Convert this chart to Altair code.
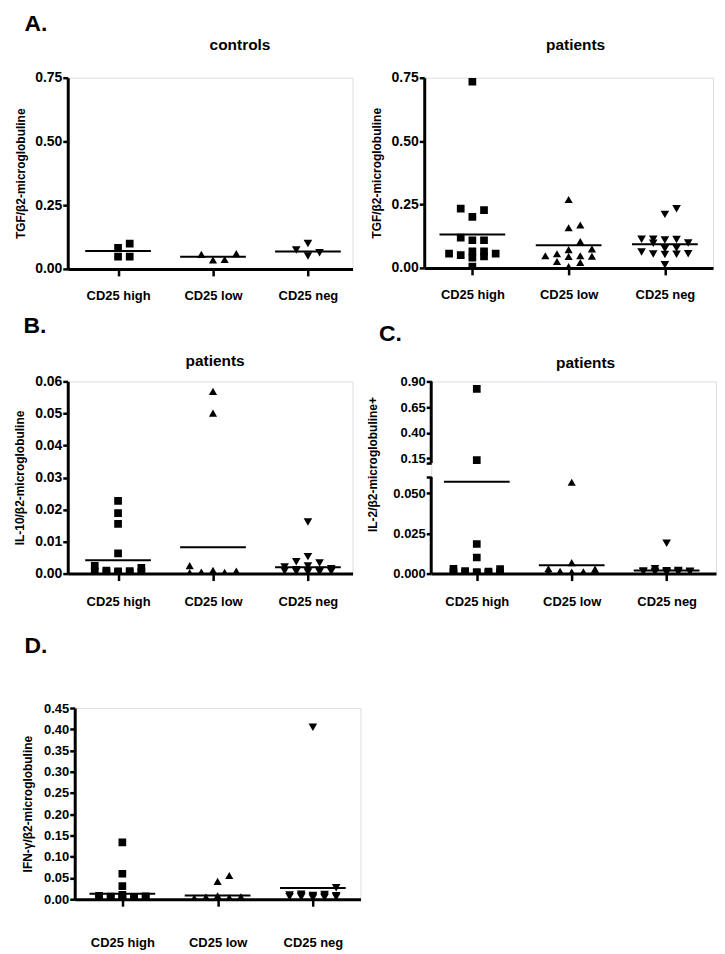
import altair as alt
import numpy as np
import pandas as pd

FONT = "Liberation Sans"
cats = ["CD25 high", "CD25 low", "CD25 neg"]
shape_range = ["square", "triangle-up", "triangle-down"]

# ---- A. TGF / b2-microglobuline, controls
tgf_ctrl_high = [0.048, 0.048, 0.083, 0.099]
tgf_ctrl_low = [0.035, 0.037, 0.057, 0.060]
tgf_ctrl_neg = [0.051, 0.063, 0.074, 0.100]
tgf_ctrl_means = [0.070, 0.048, 0.068]

# ---- A. TGF / b2-microglobuline, patients
tgf_pat_high = [0.734, 0.234, 0.228, 0.201, 0.119, 0.109, 0.109, 0.065, 0.065,
                0.056, 0.056, 0.050, 0.045, 0.040, 0.005]
tgf_pat_low = [0.270, 0.169, 0.158, 0.104, 0.075, 0.072, 0.056, 0.048, 0.048,
               0.046, 0.045, 0.025, 0.021, 0.005]
tgf_pat_neg = [0.233, 0.211, 0.113, 0.113, 0.112, 0.110, 0.098, 0.097, 0.078,
               0.076, 0.063, 0.056, 0.055, 0.054, 0.053, 0.012]
tgf_pat_means = [0.132, 0.089, 0.093]

# ---- B. IL-10 / b2-microglobuline, patients
il10_high = [0.0227, 0.0189, 0.0155, 0.0063, 0.0024, 0.0018, 0.0009, 0.0008,
             0.0007, 0.0006, 0.0005, 0.0004, 0.0003, 0.0002]
il10_low = [0.0569, 0.0501, 0.0025, 0.0010, 0.0008, 0.0005, 0.0004, 0.0003,
            0.0003, 0.0002, 0.0002, 0.0001, 0.0001]
il10_neg = [0.0161, 0.0053, 0.0037, 0.0033, 0.0024, 0.0021, 0.0015, 0.0012,
            0.0010, 0.0009, 0.0008, 0.0007, 0.0006, 0.0005, 0.0004]
il10_means = [0.0042, 0.0082, 0.0020]

# ---- C. IL-2 / b2-microglobuline, patients (broken axis)
il2_high = [0.828, 0.134, 0.0184, 0.0100, 0.0030, 0.0028, 0.0015, 0.0012,
            0.0010, 0.0008, 0.0006, 0.0005, 0.0004, 0.0003]
il2_low = [0.0567, 0.0068, 0.0030, 0.0028, 0.0015, 0.0012, 0.0010, 0.0008,
           0.0006, 0.0004, 0.0003, 0.0002]
il2_neg = [0.0188, 0.0030, 0.0020, 0.0018, 0.0016, 0.0015, 0.0014, 0.0013,
           0.0012, 0.0011, 0.0010, 0.0009, 0.0008, 0.0006]
il2_means = [0.057, 0.0052, 0.0020]

# ---- D. IFN-g / b2-microglobuline
ifn_high = [0.134, 0.060, 0.031, 0.010, 0.008, 0.007, 0.006, 0.005, 0.005,
            0.004, 0.004, 0.003, 0.003, 0.002]
ifn_low = [0.056, 0.042, 0.008, 0.006, 0.005, 0.004, 0.003, 0.003, 0.002,
           0.002, 0.001, 0.001]
ifn_neg = [0.405, 0.027, 0.012, 0.011, 0.010, 0.009, 0.008, 0.008, 0.007,
           0.006, 0.006, 0.005, 0.005, 0.004, 0.003]
ifn_means = [0.013, 0.009, 0.0265]


def spread(values, dom, rng_up, step_px=11.7, thr=8.5):
    """Prism-like column spreading of points that collide vertically."""
    px = np.interp(values, dom, rng_up)
    order = np.argsort(values, kind="stable")
    placed = []
    offs = [0.0] * len(values)
    for i in order:
        chosen, best_alt, best_d = None, 0, -1
        for s in [0, 1, -1, 2, -2]:
            d = min([abs(px[i] - p) for (ss, p) in placed if ss == s], default=1e9)
            if d >= thr:
                chosen = s
                break
            if d > best_d:
                best_d, best_alt = d, s
        if chosen is None:
            chosen = best_alt
        placed.append((chosen, px[i]))
        offs[i] = chosen * step_px
    return offs


def panel(groups, means, y_dom, y_rng, y_vals, y_expr, y_title, width, x_dom,
          title_text=None, title_dx=0, title_offset=5, x_lab_pad=14,
          y_lab_size=14, y_title_x=-40, y_title_y=None, broken=False):
    height = y_rng[0]
    step = width / (x_dom[1] - x_dom[0])
    rng_up = [height - r for r in y_rng]
    rows = []
    for ci, (cat, vals) in enumerate(zip(cats, groups)):
        offs = spread(vals, y_dom, rng_up)
        for v, o in zip(vals, offs):
            rows.append({"cat": cat, "xpos": ci + o / step, "value": v})
    pts = pd.DataFrame(rows)
    mdf = pd.DataFrame({"cat": cats, "xpos": [0, 1, 2], "value": means})

    xscale = alt.Scale(domain=x_dom, nice=False, zero=False)
    yscale = alt.Scale(domain=y_dom, range=y_rng, nice=False, zero=False)
    xaxis = alt.Axis(values=[0, 1, 2],
                     labelExpr="['CD25 high','CD25 low','CD25 neg'][datum.value]",
                     title=None, grid=False, tickSize=7, tickWidth=2.5,
                     domainWidth=3, domainColor="black", tickColor="black",
                     labelPadding=x_lab_pad, labelFontSize=13,
                     labelFontWeight="bold", labelColor="black", labelFont=FONT,
                     labelFlush=False, labelOverlap=False, zindex=1)
    ykw = dict(values=y_vals, labelExpr=y_expr, title=y_title, grid=False,
               tickSize=5, tickWidth=2.5, domainWidth=3, domainColor="black",
               tickColor="black", labelPadding=1, labelFontSize=y_lab_size,
               labelFontWeight="bold", labelColor="black", labelFont=FONT,
               titleFont=FONT, titleFontSize=12, titleFontWeight="bold",
               titleColor="black", titleX=y_title_x, labelFlush=False,
               labelOverlap=False, zindex=1, domain=not broken)
    if y_title_y is not None:
        ykw["titleY"] = y_title_y
    yaxis = alt.Axis(**ykw)

    points = alt.Chart(pts).mark_point(filled=True, opacity=1, color="black",
                                       clip=True).encode(
        x=alt.X("xpos:Q", scale=xscale, axis=xaxis),
        y=alt.Y("value:Q", scale=yscale, axis=yaxis),
        shape=alt.Shape("cat:N", scale=alt.Scale(domain=cats, range=shape_range),
                        legend=None),
        size=alt.Size("cat:N", scale=alt.Scale(domain=cats, range=[60, 75, 75]),
                      legend=None),
    )
    mean_ticks = alt.Chart(mdf).mark_tick(orient="horizontal", size=66,
                                          thickness=2, color="black",
                                          opacity=1).encode(
        x=alt.X("xpos:Q", scale=xscale, axis=xaxis),
        y=alt.Y("value:Q", scale=yscale, axis=yaxis),
    )
    layers = [points, mean_ticks]
    if broken:
        seg = pd.DataFrame({"y": [y_dom[0], y_dom[2]], "y2": [y_dom[1], y_dom[3]]})
        axis_segments = alt.Chart(seg).mark_rule(strokeWidth=3, color="black").encode(
            x=alt.value(0), y=alt.Y("y:Q", scale=yscale, axis=yaxis), y2="y2:Q")
        layers.append(axis_segments)
    ch = alt.layer(*layers).properties(width=width, height=height)
    if title_text:
        ch = ch.properties(title=alt.TitleParams(
            title_text, font=FONT, fontSize=15.5, fontWeight="bold",
            color="black", anchor="middle", frame="group", dx=title_dx,
            offset=title_offset))
    return ch


fmt2 = "format(datum.value, '.2f')"

a_ctrl = panel([tgf_ctrl_high, tgf_ctrl_low, tgf_ctrl_neg], tgf_ctrl_means,
               [0, 0.75], [192, 0], [0, 0.25, 0.5, 0.75], fmt2,
               "TGF/β2-microglobuline", 286, [-0.53, 2.47],
               title_text="controls", title_dx=30, title_offset=17,
               x_lab_pad=14, y_title_x=-40)
a_pat = panel([tgf_pat_high, tgf_pat_low, tgf_pat_neg], tgf_pat_means,
              [0, 0.75], [191, 0], [0, 0.25, 0.5, 0.75], fmt2,
              "TGF/β2-microglobuline", 290, [-0.5, 2.5],
              title_text="patients", title_dx=7, title_offset=17,
              x_lab_pad=14, y_title_x=-41)
b_pan = panel([il10_high, il10_low, il10_neg], il10_means,
              [0, 0.06], [193, 0], [0, 0.01, 0.02, 0.03, 0.04, 0.05, 0.06], fmt2,
              "IL-10/β2-microglobuline", 286, [-0.53, 2.47],
              title_text="patients", title_dx=5, title_offset=5,
              x_lab_pad=15, y_title_x=-41)
c_expr = ("(datum.value == 0.06 || datum.value == 0.105) ? '' : "
          "(datum.value < 0.1 ? format(datum.value, '.3f') : format(datum.value, '.2f'))")
c_pan = panel([il2_high, il2_low, il2_neg], il2_means,
              [0, 0.06, 0.105, 0.9], [193, 96, 82, 0],
              [0, 0.025, 0.05, 0.06, 0.105, 0.15, 0.40, 0.65, 0.90], c_expr,
              "IL-2/β2-microglobuline+", 286, [-0.48, 2.52],
              title_text="patients", title_dx=12, title_offset=4,
              x_lab_pad=15, y_lab_size=13, y_title_x=-52, y_title_y=83,
              broken=True)
d_pan = panel([ifn_high, ifn_low, ifn_neg], ifn_means,
              [0, 0.45], [192, 0],
              [0, 0.05, 0.1, 0.15, 0.2, 0.25, 0.3, 0.35, 0.4, 0.45], fmt2,
              "IFN-γ/β2-microglobuline", 287, [-0.5, 2.5],
              x_lab_pad=30, y_lab_size=13, y_title_x=-40)


def letter(text, offset, dx=10, lead=None):
    kw = dict(font=FONT, anchor="start", frame="bounds", dx=dx, offset=offset)
    if lead is None:
        return alt.TitleParams(text, fontSize=23, fontWeight="bold",
                               color="black", **kw)
    # a blank first title line pushes the letter down by `lead` px
    return alt.TitleParams(" ", fontSize=lead, subtitle=text, subtitleFont=FONT,
                           subtitleFontSize=23, subtitleFontWeight="bold",
                           subtitleColor="black", subtitlePadding=0, **kw)


row_a = alt.hconcat(a_ctrl, a_pat, spacing=16, title=letter("A.", 2))
b_wrap = alt.hconcat(b_pan, title=letter("B.", 15.5))
c_wrap = alt.hconcat(c_pan, title=letter("C.", 9.5, dx=13, lead=7))
row_bc = alt.hconcat(b_wrap, c_wrap, spacing=12)

spacer = alt.Chart(pd.DataFrame({"v": [0]})).mark_rect(opacity=0).encode(
    x=alt.value(0), x2=alt.value(1), y=alt.value(0), y2=alt.value(1)
).properties(width=1, height=1)
row_d = alt.hconcat(spacer, d_pan, spacing=6, bounds="flush",
                    title=letter("D.", 44, dx=3, lead=14))

chart = alt.vconcat(row_a, row_bc, row_d, spacing=11).properties(
    padding={"left": 5, "top": 3, "right": 0, "bottom": 0}
).configure_view(stroke=None).configure(font=FONT)

chart.save("out.html", embed_options={"renderer": "svg", "actions": False})
